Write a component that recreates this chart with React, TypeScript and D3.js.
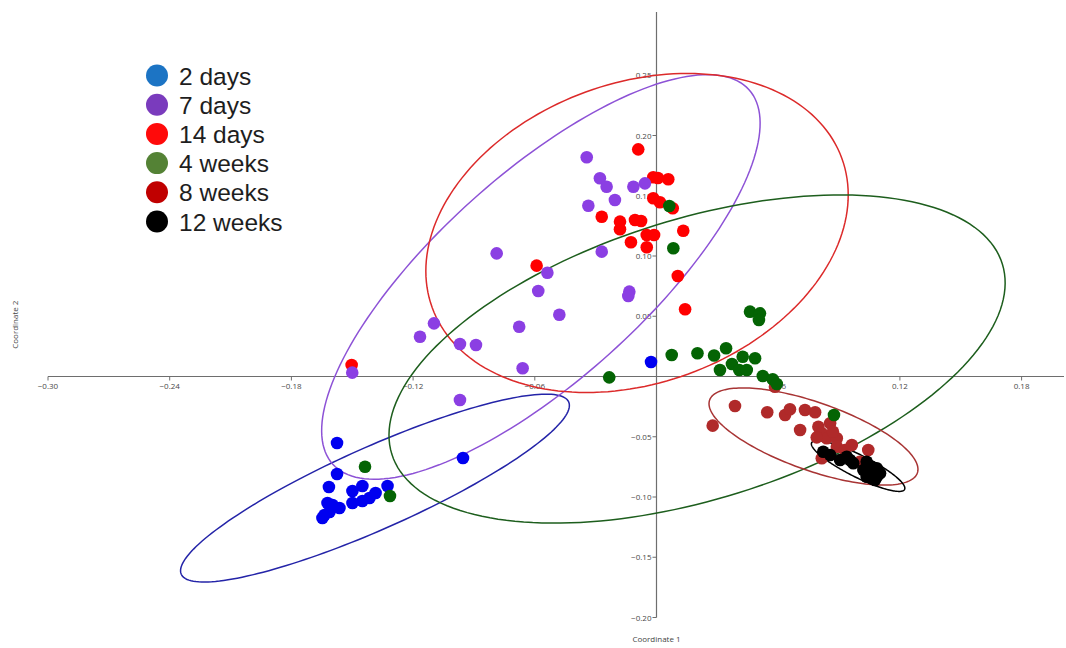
import React from "react";
import * as d3 from "d3";

const WIDTH = 1066;
const HEIGHT = 648;

// scores (Coordinate 1, Coordinate 2)
const days2 = [
  [-0.1575, -0.0552], [-0.1575, -0.0809], [-0.1615, -0.0917], [-0.1499, -0.095],
  [-0.145, -0.0909], [-0.1326, -0.0909], [-0.1385, -0.0967], [-0.1415, -0.1008],
  [-0.145, -0.1033], [-0.1499, -0.105], [-0.1563, -0.1091], [-0.1597, -0.1066],
  [-0.1622, -0.105], [-0.1612, -0.1124], [-0.1637, -0.1149], [-0.1647, -0.1174],
  [-0.0954, -0.0676], [-0.0027, 0.012]
];
const days14 = [
  [-0.009, 0.1885], [-0.0016, 0.1653], [0.0007, 0.1647], [0.0058, 0.1637],
  [-0.0016, 0.1479], [0.0017, 0.1446], [0.008, 0.1396], [-0.027, 0.1326],
  [-0.018, 0.1285], [-0.018, 0.1222], [-0.0106, 0.1299], [-0.0076, 0.129],
  [-0.0048, 0.1174], [-0.0012, 0.1174], [-0.0126, 0.1114], [-0.0048, 0.1072],
  [0.0132, 0.121], [0.0105, 0.0834], [0.0141, 0.0558], [-0.0591, 0.092],
  [-0.1503, 0.0095]
];
const days7 = [
  [-0.0344, 0.1819], [-0.0279, 0.1645], [-0.0246, 0.1575], [-0.0114, 0.1575],
  [-0.0057, 0.1603], [-0.0205, 0.1465], [-0.0336, 0.1417], [-0.0788, 0.1022],
  [-0.027, 0.1036], [-0.0538, 0.0861], [-0.0583, 0.071], [-0.0134, 0.0704],
  [-0.0139, 0.0668], [-0.0479, 0.0513], [-0.0677, 0.0413], [-0.1097, 0.0441],
  [-0.1166, 0.033], [-0.0969, 0.027], [-0.089, 0.0261], [-0.066, 0.0068],
  [-0.15, 0.0032], [-0.0969, -0.0195]
];
const weeks8 = [
  [0.0277, -0.0408], [0.0387, -0.0245], [0.0546, -0.0297], [0.0634, -0.032],
  [0.0658, -0.0272], [0.0732, -0.0278], [0.0782, -0.0297], [0.0708, -0.0444],
  [0.0798, -0.0417], [0.0856, -0.0388], [0.0815, -0.0471], [0.0839, -0.0513],
  [0.0889, -0.0513], [0.079, -0.0505], [0.0889, -0.0583], [0.0963, -0.0568],
  [0.0929, -0.061], [0.1044, -0.061], [0.0815, -0.0679], [0.1003, -0.0707],
  [0.0584, -0.0085], [0.087, -0.0458]
];
const weeks4 = [
  [-0.1437, -0.0749], [-0.1314, -0.0992], [-0.0233, -0.0007], [0.0075, 0.0178],
  [0.0202, 0.0193], [0.0284, 0.0174], [0.0343, 0.0234], [0.0372, 0.0104],
  [0.0425, 0.0164], [0.0486, 0.0151], [0.0313, 0.0054], [0.0408, 0.0054],
  [0.0445, 0.0054], [0.0524, 0.0004], [0.0573, -0.0023], [0.0593, -0.0062],
  [0.0461, 0.0538], [0.051, 0.0524], [0.0505, 0.0469], [0.0063, 0.1415],
  [0.0083, 0.1064], [0.0875, -0.032]
];
const weeks12 = [
  [0.0822, -0.0624], [0.0856, -0.0651], [0.0905, -0.0693], [0.0938, -0.0666],
  [0.097, -0.072], [0.1036, -0.0707], [0.1061, -0.0749], [0.1086, -0.0762],
  [0.102, -0.0776], [0.1053, -0.0803], [0.1086, -0.0832], [0.1061, -0.0845],
  [0.1036, -0.0832], [0.1102, -0.0803], [0.1077, -0.0859], [0.0954, -0.0693]
];

// confidence ellipses: centre and two conjugate semi-axis vectors, data units
const ellipses = [
  { key: "2 days", c: [-0.1388, -0.0926], u: [0.0955, 0.0715], v: [0.0082, -0.0311], stroke: "#2424a8" },
  { key: "7 days", c: [-0.057, 0.0826], u: [0.1026, 0.1554], v: [0.034, -0.0635], stroke: "#8d52d6" },
  { key: "14 days", c: [-0.0096, 0.1191], u: [0.101, 0.0619], v: [0.0253, -0.117], stroke: "#dc2a2a" },
  { key: "4 weeks", c: [0.02, 0.0145], u: [0.1505, 0.0789], v: [0.0205, -0.111], stroke: "#1d5e1d" },
  { key: "8 weeks", c: [0.0774, -0.0498], u: [0.0512, -0.0303], v: [-0.0056, -0.0266], stroke: "#a83434" },
  { key: "12 weeks", c: [0.0994, -0.0743], u: [0.0229, -0.0194], v: [-0.0025, -0.0082], stroke: "#000000" }
];

// draw order of the point groups
const groups = [
  { key: "2 days", pts: days2, fill: "#0000f0" },
  { key: "14 days", pts: days14, fill: "#ff0000" },
  { key: "7 days", pts: days7, fill: "#8b3fe3" },
  { key: "8 weeks", pts: weeks8, fill: "#b02a2a" },
  { key: "4 weeks", pts: weeks4, fill: "#046404" },
  { key: "12 weeks", pts: weeks12, fill: "#000000" }
];

const legendLabels = ["2 days", "7 days", "14 days", "4 weeks", "8 weeks", "12 weeks"];
const legendColors = ["#1c74c4", "#7a3bbd", "#ff0a0a", "#548235", "#c00000", "#000000"];

const xTicks = [-0.3, -0.24, -0.18, -0.12, -0.06, 0.06, 0.12, 0.18];
const yTicks = [-0.2, -0.15, -0.1, -0.05, 0.05, 0.1, 0.15, 0.2, 0.25];

const x = d3.scaleLinear().domain([-0.3, 0.18]).range([48, 1021.6]);
const y = d3.scaleLinear().domain([-0.2, 0.25]).range([617.5, 75.25]);
const fmt = d3.format(".2f");

const ellipsePath = (e) => {
  const ts = d3.range(0, 2 * Math.PI, Math.PI / 90);
  const line = d3
    .line()
    .x(t => x(e.c[0] + Math.cos(t) * e.u[0] + Math.sin(t) * e.v[0]))
    .y(t => y(e.c[1] + Math.cos(t) * e.u[1] + Math.sin(t) * e.v[1]))
    .curve(d3.curveLinearClosed);
  return line(ts);
};

const legendY = d3.scalePoint().domain(legendLabels).range([75.5, 221.5]);

export default function App() {
  const x0 = x(0);
  const y0 = y(0);
  const tickFont = "'Open Sans', 'DejaVu Sans', sans-serif";
  return (
    <div style={{ position: "absolute", left: 0, top: 0 }}>
      <svg width={WIDTH} height={HEIGHT} style={{ display: "block", background: "#fff" }}>
        {/* axes */}
        <line x1={x(-0.3)} x2={1064} y1={y0} y2={y0} stroke="#6e6e6e" strokeWidth={1.2} />
        <line x1={x0} x2={x0} y1={12} y2={y(-0.2)} stroke="#6e6e6e" strokeWidth={1.2} />
        {xTicks.map(t => (
          <g key={"x" + t}>
            <line x1={x(t)} x2={x(t)} y1={y0} y2={y0 + 4} stroke="#6e6e6e" />
            <text x={x(t)} y={y0 + 12} fontSize={8} fill="#4a4a4a" textAnchor="middle" fontFamily={tickFont}>
              {fmt(t)}
            </text>
          </g>
        ))}
        {yTicks.map(t => (
          <g key={"y" + t}>
            <line x1={x0 - 4} x2={x0} y1={y(t)} y2={y(t)} stroke="#6e6e6e" />
            <text x={x0 - 5} y={y(t) + 3} fontSize={8} fill="#4a4a4a" textAnchor="end" fontFamily={tickFont}>
              {fmt(t)}
            </text>
          </g>
        ))}
        <text x={x0} y={642} fontSize={8} fill="#444" textAnchor="middle" fontFamily={tickFont}>
          Coordinate 1
        </text>
        <text
          transform={`translate(18,${y(0.043)}) rotate(-90)`}
          fontSize={8}
          fill="#444"
          textAnchor="middle"
          fontFamily={tickFont}
        >
          Coordinate 2
        </text>

        {/* ellipses */}
        {ellipses.map(e => (
          <path key={e.key} d={ellipsePath(e)} fill="none" stroke={e.stroke} strokeWidth={1.5} />
        ))}

        {/* points */}
        {groups.map(g => (
          <g key={g.key}>
            {g.pts.map((p, i) => (
              <circle key={i} cx={x(p[0])} cy={y(p[1])} r={6.3} fill={g.fill} />
            ))}
          </g>
        ))}

        {/* legend */}
        {legendLabels.map((l, i) => (
          <g key={l}>
            <circle cx={157} cy={legendY(l)} r={11} fill={legendColors[i]} />
            <text
              x={179}
              y={legendY(l) + 9}
              fontSize={24.5}
              fill="#1e1e1e"
              fontFamily="'Liberation Sans', Arial, sans-serif"
            >
              {l}
            </text>
          </g>
        ))}
      </svg>
    </div>
  );
}
